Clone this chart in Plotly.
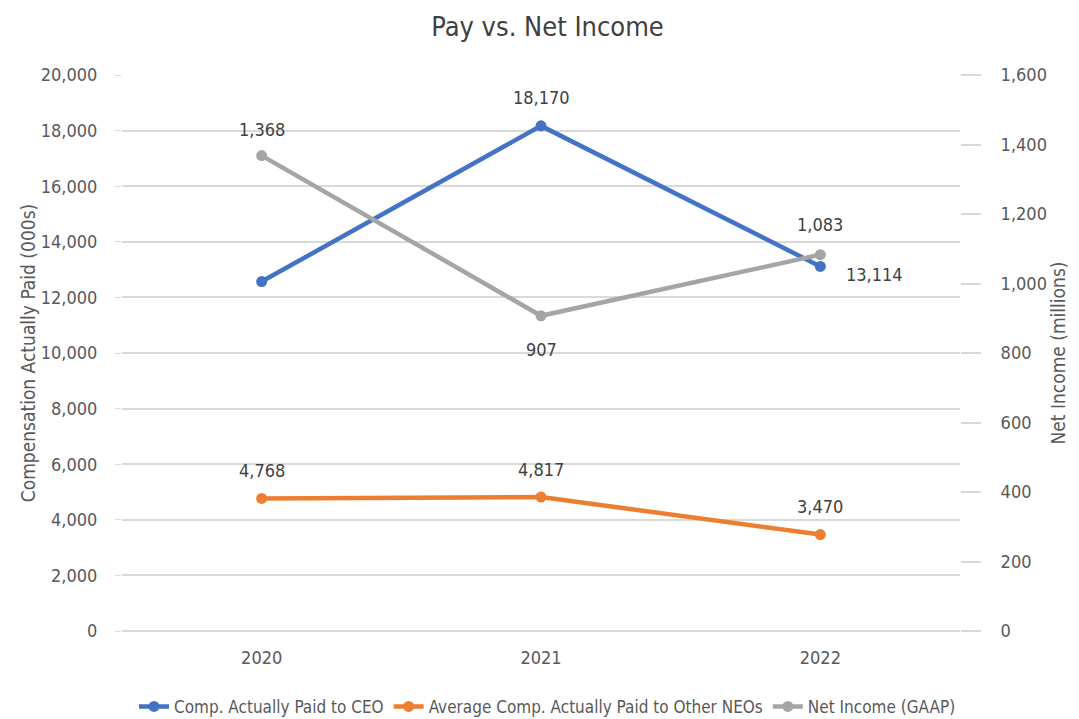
import plotly.graph_objects as go

years = ["2020", "2021", "2022"]
ceo_cap = [12570, 18170, 13114]
neo_cap = [4768, 4817, 3470]
net_income = [1368, 907, 1083]

# which points carry a value label
ceo_show = [False, True, True]

FONT = "DejaVu Sans Condensed, Roboto, sans-serif"
GRAY = "#595959"
LABEL = "#404040"
GRID = "#D9D9D9"

def fmt(v):
    return f"{v:,}"

series = [
    ("Comp. Actually Paid to CEO", ceo_cap, "#4472C4", "y"),
    ("Average Comp. Actually Paid to Other NEOs", neo_cap, "#ED7D31", "y"),
    ("Net Income (GAAP)", net_income, "#A5A5A5", "y2"),
]

fig = go.Figure()
for name, vals, color, ax in series:
    fig.add_trace(go.Scatter(
        x=years, y=vals, name=name, yaxis=ax, mode="lines+markers",
        line=dict(color=color, width=4.5), marker=dict(size=11, color=color),
    ))

# label offsets (style only): (xshift, yshift, xanchor)
ceo_off = [(0, 28, "center"), (0, 28, "center"), (24, -8, "left")]
neo_off = [(0, 28, "center")] * 3
ni_off = [(0, 26, "center"), (0, -34, "center"), (0, 30, "center")]

for vals, offs, show, yref in [
    (ceo_cap, ceo_off, ceo_show, "y"),
    (neo_cap, neo_off, [True] * 3, "y"),
    (net_income, ni_off, [True] * 3, "y2"),
]:
    for i, (v, (dx, dy, xa), s) in enumerate(zip(vals, offs, show)):
        if not s:
            continue
        fig.add_annotation(
            x=i, y=v, xref="x", yref=yref, text=fmt(v), showarrow=False,
            xshift=dx, yshift=dy, xanchor=xa,
            font=dict(size=18, color=LABEL, family=FONT),
        )

fig.update_layout(
    width=1079, height=719,
    margin=dict(l=114, r=127, t=67, b=96, autoexpand=False),
    paper_bgcolor="white", plot_bgcolor="white",
    font=dict(family=FONT, color=GRAY, size=18),
    title=dict(text="Pay vs. Net Income", x=0.5, xanchor="center", y=0.988, yanchor="top",
               font=dict(size=27, color=LABEL, family=FONT)),
    xaxis=dict(type="category", range=[-0.5, 2.5], showgrid=False, showline=False,
               ticks="", ticklabelstandoff=14, tickfont=dict(size=18, color=GRAY),
               automargin=False),
    yaxis=dict(range=[0, 20000], dtick=2000, tickformat=",d", gridcolor=GRID,
               gridwidth=1.5, zeroline=True, zerolinecolor=GRID, zerolinewidth=1.5,
               showline=False, ticks="outside", ticklen=6, tickcolor=GRID,
               ticklabelstandoff=14, automargin=False,
               title=dict(text="Compensation Actually Paid (000s)", standoff=0,
                          font=dict(size=19, color=GRAY)),
               tickfont=dict(size=18, color=GRAY)),
    yaxis2=dict(range=[0, 1600], dtick=200, tickformat=",d", overlaying="y", side="right",
                showgrid=False, zeroline=False, showline=False,
                ticks="outside", ticklen=20, tickcolor=GRID, tickwidth=1.5,
                ticklabelstandoff=16, automargin=False,
                title=dict(text="Net Income (millions)", standoff=4, font=dict(size=19, color=GRAY)),
                tickfont=dict(size=18, color=GRAY)),
    legend=dict(orientation="h", x=0.5, xanchor="center", xref="container",
                y=0.003, yanchor="bottom", yref="container",
                font=dict(size=17, color=GRAY), itemwidth=30, tracegroupgap=0),
    showlegend=True,
)

fig.write_html("out.html")
